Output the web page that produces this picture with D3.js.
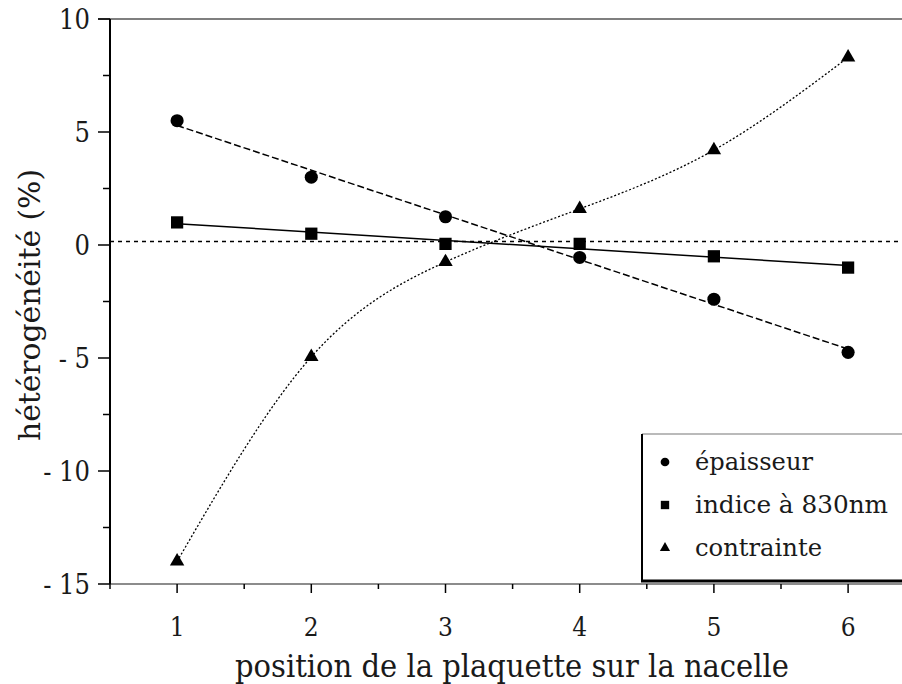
<!DOCTYPE html>
<html>
<head>
<meta charset="utf-8">
<script src="https://cdn.jsdelivr.net/npm/d3@7"></script>
<style>
  html, body { margin: 0; padding: 0; background: #fff; }
  svg { display: block; }
</style>
</head>
<body>
<svg id="chart" width="902" height="684"></svg>
<script>
// Wafer position on the boat
const positions = [1, 2, 3, 4, 5, 6];

// Non-uniformity (%) per wafer position
const epaisseur = [5.5, 3.0, 1.25, -0.55, -2.4, -4.75];
const indice    = [1.0, 0.5, 0.05, 0.05, -0.5, -1.0];
const contrainte = [-14.0, -4.95, -0.75, 1.6, 4.2, 8.3];

// Reference level drawn as a dotted horizontal line
const referenceLevel = [0.15];

const seriesNames = ["épaisseur", "indice à 830nm", "contrainte"];
const xTickValues = [1, 2, 3, 4, 5, 6];
const yTickValues = [-15, -10, -5, 0, 5, 10];

(function draw() {
  const svg = d3.select("#chart");
  const W = 902;
  const plotLeft = 110, plotTop = 19, plotBottom = 584;
  const serif = "'DejaVu Serif Condensed', 'Liberation Serif', 'DejaVu Serif', serif";
  const ink = "#1a1a1a";

  const x = d3.scaleLinear().domain([0.5, 6.5]).range([plotLeft, plotLeft + 6 * 134.2]);
  const y = d3.scaleLinear().domain([-15, 10]).range([plotBottom, plotTop]);

  // least-squares straight line
  function fit(xs, ys) {
    const mx = d3.mean(xs), my = d3.mean(ys);
    let sxy = 0, sxx = 0;
    for (let i = 0; i < xs.length; i++) { sxy += (xs[i] - mx) * (ys[i] - my); sxx += (xs[i] - mx) ** 2; }
    const b = sxy / sxx, a = my - b * mx;
    return v => a + b * v;
  }

  // frame: grey top and bottom rules, black left axis
  svg.append("line").attr("x1", 98).attr("x2", W).attr("y1", plotTop).attr("y2", plotTop)
    .attr("stroke", "#555").attr("stroke-width", 1.5);
  svg.append("line").attr("x1", plotLeft).attr("x2", W).attr("y1", plotBottom).attr("y2", plotBottom)
    .attr("stroke", "#666").attr("stroke-width", 1.5);
  svg.append("line").attr("x1", plotLeft).attr("x2", plotLeft).attr("y1", plotTop).attr("y2", plotBottom)
    .attr("stroke", "#000").attr("stroke-width", 2);

  // y axis ticks (major every 5, minor every 2.5)
  const yMinor = d3.range(-15, 10.01, 2.5);
  svg.append("g").selectAll("line").data(yMinor).join("line")
    .attr("x1", d => (d % 5 === 0 ? 98 : 103)).attr("x2", plotLeft)
    .attr("y1", d => y(d)).attr("y2", d => y(d))
    .attr("stroke", "#000").attr("stroke-width", 1.5);
  svg.append("g").selectAll("text").data(yTickValues).join("text")
    .attr("x", 90).attr("y", d => y(d) + 10)
    .attr("text-anchor", "end").attr("font-family", serif).attr("font-size", 27)
    .attr("fill", ink)
    .text(d => d < 0 ? "- " + Math.abs(d) : String(d));

  // x axis ticks (major at integers, minor at halves)
  const xMinor = d3.range(0.5, 6.51, 0.5);
  svg.append("g").selectAll("line").data(xMinor).join("line")
    .attr("x1", d => x(d)).attr("x2", d => x(d))
    .attr("y1", plotBottom).attr("y2", d => (Number.isInteger(d) ? plotBottom + 9 : plotBottom + 5))
    .attr("stroke", "#000").attr("stroke-width", 1.5);
  svg.append("g").selectAll("text").data(xTickValues).join("text")
    .attr("x", d => x(d)).attr("y", 636)
    .attr("text-anchor", "middle").attr("font-family", serif).attr("font-size", 26)
    .attr("fill", ink)
    .text(d => d);

  // axis titles
  svg.append("text")
    .attr("x", 512).attr("y", 677).attr("text-anchor", "middle")
    .attr("font-family", serif).attr("font-size", 31).attr("fill", ink)
    .attr("textLength", 554).attr("lengthAdjust", "spacingAndGlyphs")
    .text("position de la plaquette sur la nacelle");
  svg.append("text")
    .attr("transform", "translate(40,305) rotate(-90)")
    .attr("text-anchor", "middle").attr("font-family", serif).attr("font-size", 29)
    .attr("fill", ink)
    .attr("textLength", 272).attr("lengthAdjust", "spacingAndGlyphs")
    .text("hétérogénéité (%)");

  // dotted reference level
  svg.append("g").selectAll("line").data(referenceLevel).join("line")
    .attr("x1", plotLeft).attr("x2", W).attr("y1", d => y(d)).attr("y2", d => y(d))
    .attr("stroke", "#000").attr("stroke-width", 1.5).attr("stroke-dasharray", "4,4");

  // fitted trend lines
  const fitE = fit(positions, epaisseur);
  const fitI = fit(positions, indice);
  const line = d3.line().x(d => x(d[0])).y(d => y(d[1]));
  const ends = [positions[0], positions[positions.length - 1]];

  svg.append("path").datum(ends.map(v => [v, fitE(v)])).attr("d", line)
    .attr("fill", "none").attr("stroke", "#000").attr("stroke-width", 1.5)
    .attr("stroke-dasharray", "7,3");
  svg.append("path").datum(ends.map(v => [v, fitI(v)])).attr("d", line)
    .attr("fill", "none").attr("stroke", "#000").attr("stroke-width", 1.5);
  svg.append("path").datum(positions.map((v, i) => [v, contrainte[i]]))
    .attr("d", d3.line().x(d => x(d[0])).y(d => y(d[1])).curve(d3.curveNatural))
    .attr("fill", "none").attr("stroke", "#000").attr("stroke-width", 1.3)
    .attr("stroke-dasharray", "2,2");

  // markers
  const circle = d3.symbol().type(d3.symbolCircle);
  const square = d3.symbol().type(d3.symbolSquare);
  const triangle = d3.symbol().type(d3.symbolTriangle);
  svg.append("g").selectAll("path").data(positions).join("path")
    .attr("d", circle.size(135)())
    .attr("transform", (d, i) => `translate(${x(d)},${y(epaisseur[i])})`);
  svg.append("g").selectAll("path").data(positions).join("path")
    .attr("d", square.size(150)())
    .attr("transform", (d, i) => `translate(${x(d)},${y(indice[i])})`);
  svg.append("g").selectAll("path").data(positions).join("path")
    .attr("d", triangle.size(90)())
    .attr("transform", (d, i) => `translate(${x(d)},${y(contrainte[i])})`);

  // legend box
  const lg = svg.append("g");
  lg.append("rect").attr("x", 642).attr("y", 434).attr("width", W - 642 + 5).attr("height", 147)
    .attr("fill", "#fff");
  lg.append("line").attr("x1", 642).attr("x2", W).attr("y1", 434).attr("y2", 434)
    .attr("stroke", "#777").attr("stroke-width", 1.2);
  lg.append("line").attr("x1", 642).attr("x2", 642).attr("y1", 434).attr("y2", 582)
    .attr("stroke", "#000").attr("stroke-width", 2);
  lg.append("line").attr("x1", 641).attr("x2", W).attr("y1", 581).attr("y2", 581)
    .attr("stroke", "#000").attr("stroke-width", 3);

  const legendSyms = [circle.size(60)(), square.size(70)(), triangle.size(45)()];
  const legendWidths = [118, 193, 127];
  seriesNames.forEach((name, i) => {
    const cy = 462 + i * 43;
    lg.append("path").attr("d", legendSyms[i]).attr("transform", `translate(665,${cy})`);
    lg.append("text").attr("x", 695).attr("y", cy + 8)
      .attr("font-family", serif).attr("font-size", 25).attr("fill", ink)
      .attr("textLength", legendWidths[i])
      .attr("lengthAdjust", "spacingAndGlyphs").text(name);
  });
})();
</script>
</body>
</html>
